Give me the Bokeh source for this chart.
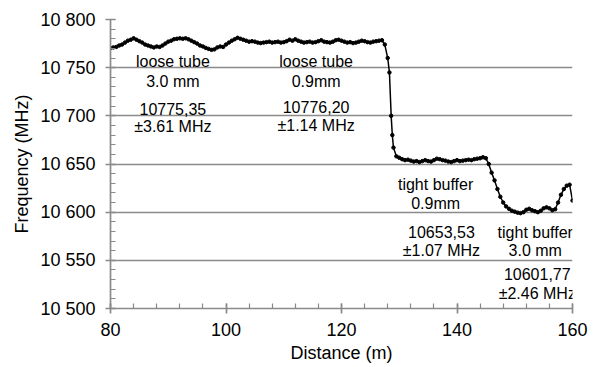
from bokeh.plotting import figure
from bokeh.models import FixedTicker, ColumnDataSource
from bokeh.core.properties import value
from bokeh.embed import file_html
from bokeh.resources import INLINE

# Distance (m)
distance = [
    80.0, 80.5, 81.0, 81.5, 82.0, 82.5, 83.0, 83.5, 84.0, 84.5,
    85.0, 85.5, 86.0, 86.5, 87.0, 87.5, 88.0, 88.5, 89.0, 89.5,
    90.0, 90.5, 91.0, 91.5, 92.0, 92.5, 93.0, 93.5, 94.0, 94.5,
    95.0, 95.5, 96.0, 96.5, 97.0, 97.5, 98.0, 98.5, 99.0, 99.5,
    100.0, 100.5, 101.0, 101.5, 102.0, 102.5, 103.0, 103.5, 104.0, 104.5,
    105.0, 105.5, 106.0, 106.5, 107.0, 107.5, 108.0, 108.5, 109.0, 109.5,
    110.0, 110.5, 111.0, 111.5, 112.0, 112.5, 113.0, 113.5, 114.0, 114.5,
    115.0, 115.5, 116.0, 116.5, 117.0, 117.5, 118.0, 118.5, 119.0, 119.5,
    120.0, 120.5, 121.0, 121.5, 122.0, 122.5, 123.0, 123.5, 124.0, 124.5,
    125.0, 125.5, 126.0, 126.5, 127.0, 127.5, 128.0, 128.3, 128.6, 128.8,
    129.0, 129.5, 130.0, 130.5, 131.0, 131.5, 132.0, 132.5, 133.0, 133.5,
    134.0, 134.5, 135.0, 135.5, 136.0, 136.5, 137.0, 137.5, 138.0, 138.5,
    139.0, 139.5, 140.0, 140.5, 141.0, 141.5, 142.0, 142.5, 143.0, 143.5,
    144.0, 144.5, 145.0, 145.5, 146.0, 146.5, 147.0, 147.5, 148.0, 148.5,
    149.0, 149.5, 150.0, 150.5, 151.0, 151.5, 152.0, 152.5, 153.0, 153.5,
    154.0, 154.5, 155.0, 155.5, 156.0, 156.5, 157.0, 157.5, 158.0, 158.5,
    159.0, 159.5, 160.0,
]

# Frequency (MHz)
frequency = [
    10770.5, 10771.0, 10771.5, 10773.0, 10774.0, 10776.0, 10778.0, 10779.0, 10780.5, 10779.0,
    10777.5, 10776.0, 10774.0, 10773.0, 10772.0, 10771.0, 10772.0, 10771.5, 10773.0, 10775.0,
    10777.0, 10778.0, 10779.5, 10780.0, 10780.5, 10780.0, 10780.5, 10779.5, 10778.0, 10776.5,
    10775.0, 10773.0, 10772.0, 10770.5, 10769.5, 10768.5, 10769.0, 10771.0, 10772.0, 10771.5,
    10774.0, 10776.0, 10778.0, 10779.5, 10781.0, 10780.0, 10779.0, 10778.0, 10777.0, 10777.5,
    10777.0, 10776.0, 10775.5, 10776.0, 10776.5, 10777.0, 10776.0, 10776.5, 10777.0, 10776.0,
    10776.5, 10777.5, 10779.0, 10778.0, 10779.5, 10778.0, 10777.0, 10776.0, 10776.5, 10777.0,
    10776.0, 10776.5, 10777.5, 10778.5, 10777.0, 10776.5, 10776.0, 10777.0, 10778.5, 10779.0,
    10778.0, 10777.0, 10776.0, 10776.5, 10775.5, 10776.0, 10777.0, 10778.0, 10777.5, 10776.5,
    10776.0, 10777.0, 10777.5, 10778.0, 10778.5, 10774.0, 10760.0, 10745.0, 10700.0, 10680.0,
    10667.0, 10658.0, 10656.5, 10655.0, 10654.0, 10654.5, 10653.5, 10652.5, 10653.0, 10652.0,
    10653.0, 10654.0, 10653.0, 10652.5, 10654.0, 10655.5, 10655.0, 10654.0, 10653.5, 10652.5,
    10652.0, 10653.0, 10654.0, 10653.0, 10653.5, 10654.0, 10654.5, 10654.0, 10655.0, 10655.5,
    10656.0, 10657.0, 10656.0, 10650.0, 10641.0, 10633.0, 10624.0, 10616.0, 10610.0, 10606.0,
    10603.5, 10601.5, 10600.5, 10599.5, 10599.0, 10600.0, 10602.5, 10603.5, 10602.0, 10601.0,
    10600.0, 10601.5, 10604.0, 10605.0, 10604.0, 10602.0, 10603.0, 10610.0, 10618.0, 10624.0,
    10627.5, 10628.5, 10612.0,
]

x_ticks = [80, 100, 120, 140, 160]
x_minor = [80 + 4 * i for i in range(21)]
y_ticks = [10500, 10550, 10600, 10650, 10700, 10750, 10800]
y_tick_labels = ["10 500", "10 550", "10 600", "10 650", "10 700", "10 750", "10 800"]
y_minor = [10500 + 10 * i for i in range(31)]

annot_text = [
    "loose tube", "3.0 mm", "10775,35", "\u00b13.61 MHz",
    "loose tube", "0.9mm", "10776,20", "\u00b11.14 MHz",
    "tight buffer", "0.9mm", "10653,53", "\u00b11.07 MHz",
    "tight buffer", "3.0 mm", "10601,77", "\u00b12.46 MHz",
]
annot_x = [90.8, 90.8, 90.8, 90.8,
           115.6, 115.6, 115.6, 115.6,
           136.3, 136.3, 137.3, 137.3,
           153.55, 153.55, 153.9, 153.9]
annot_y = [10756.3, 10735.4, 10707.3, 10688.5,
           10756.3, 10735.4, 10709.4, 10689.6,
           10629.2, 10609.4, 10579.2, 10560.4,
           10579.2, 10560.4, 10535.4, 10515.6]

FONT = "Liberation Sans"
GRAY = "#8a8a8a"

p = figure(width=599, height=367, output_backend="svg", toolbar_location=None,
           x_range=(80, 160), y_range=(10500, 10800),
           min_border_left=110, min_border_right=27, min_border_top=19, min_border_bottom=59)
p.outline_line_color = None
p.background_fill_color = "white"
p.border_fill_color = "white"

p.xgrid.visible = False
p.ygrid.grid_line_color = GRAY
p.ygrid.grid_line_width = 1.7

p.xaxis.ticker = FixedTicker(ticks=x_ticks, minor_ticks=x_minor)
p.yaxis.ticker = FixedTicker(ticks=y_ticks, minor_ticks=y_minor)
p.yaxis.major_label_overrides = {t: l for t, l in zip(y_ticks, y_tick_labels)}

for ax in (p.xaxis[0], p.yaxis[0]):
    ax.axis_line_color = GRAY
    ax.axis_line_width = 1.7
    ax.major_tick_line_color = GRAY
    ax.major_tick_line_width = 1.7
    ax.minor_tick_line_color = GRAY
    ax.minor_tick_line_width = 1.2
    ax.major_tick_out = 5
    ax.major_tick_in = 5
    ax.minor_tick_out = 0
    ax.minor_tick_in = 5
    ax.major_label_text_font = FONT
    ax.major_label_text_font_size = "18px"
    ax.major_label_text_color = "#000000"
    ax.axis_label_text_font = FONT
    ax.axis_label_text_font_size = "18px"
    ax.axis_label_text_font_style = "normal"
    ax.axis_label_text_color = "#000000"

p.xaxis.axis_label = "Distance (m)"
p.yaxis.axis_label = "Frequency (MHz)"
p.xaxis.major_label_standoff = 9
p.xaxis.axis_label_standoff = 4
p.yaxis.major_label_standoff = 10
p.yaxis.axis_label_standoff = 5

src = ColumnDataSource(data=dict(x=distance, y=frequency))
p.line("x", "y", source=src, line_color="black", line_width=1.5)
p.scatter("x", "y", source=src, size=3.5, fill_color="black", line_color="black")

asrc = ColumnDataSource(data=dict(x=annot_x, y=annot_y, t=annot_text))
p.text("x", "y", text="t", source=asrc, text_align="center", text_baseline="middle",
       text_font=value(FONT), text_font_size="16px", text_color="#000000")

open("out.html", "w").write(file_html(p, INLINE))
